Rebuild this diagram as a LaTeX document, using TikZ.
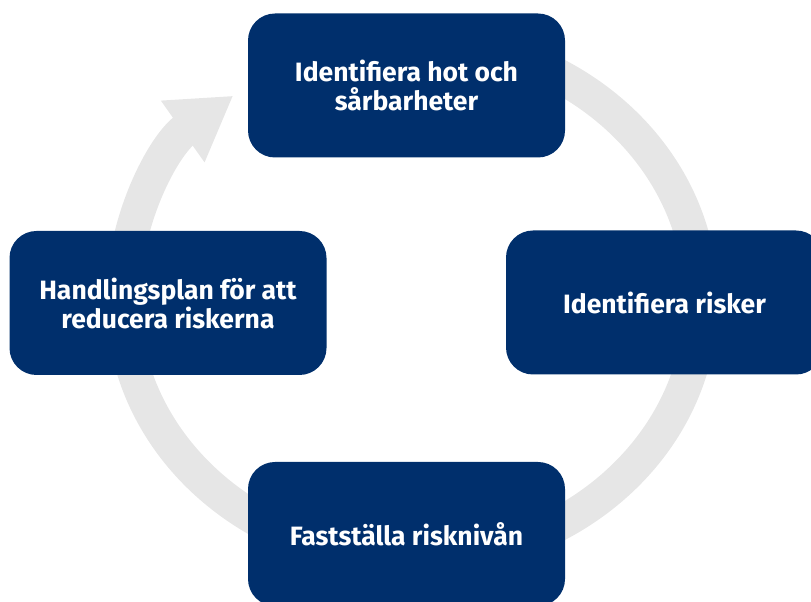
\documentclass[tikz,border=0pt]{standalone}
\usepackage{fontspec}
\setmainfont{Fira Sans}
\usetikzlibrary{arrows.meta}
\definecolor{azul}{HTML}{002F6C}
\definecolor{cinza}{HTML}{E6E6E6}
\begin{document}
\begin{tikzpicture}[x=1pt, y=1pt,
    etapa/.style={fill=azul, rounded corners=27pt, minimum width=317pt, minimum height=144pt,
      text=white, align=center, font=\bfseries\fontsize{26.5}{29}\selectfont}]
        % Limites da figura
        \clip (0,0) rectangle (811,602);

        % Anel com seta
        \coordinate (c) at (412,302);
        \draw[cinza, line width=34pt, -{Triangle[length=62pt, width=71pt]}]
          ([yshift=260pt]c) arc[start angle=90, end angle=-231.8, x radius=289pt, y radius=260pt];

        % Etapas do ciclo
        \node[etapa] (hot) at (406.5,516.5) {Identifiera hot och\\sårbarheter};
        \node[etapa] (risker) at (664.5,299.5) {Identifiera risker};
        \node[etapa] (niva) at (406.5,68) {Fastställa risknivån};
        \node[etapa] (plan) at (168,299) {Handlingsplan för att\\reducera riskerna};
      \end{tikzpicture}
\end{document}
